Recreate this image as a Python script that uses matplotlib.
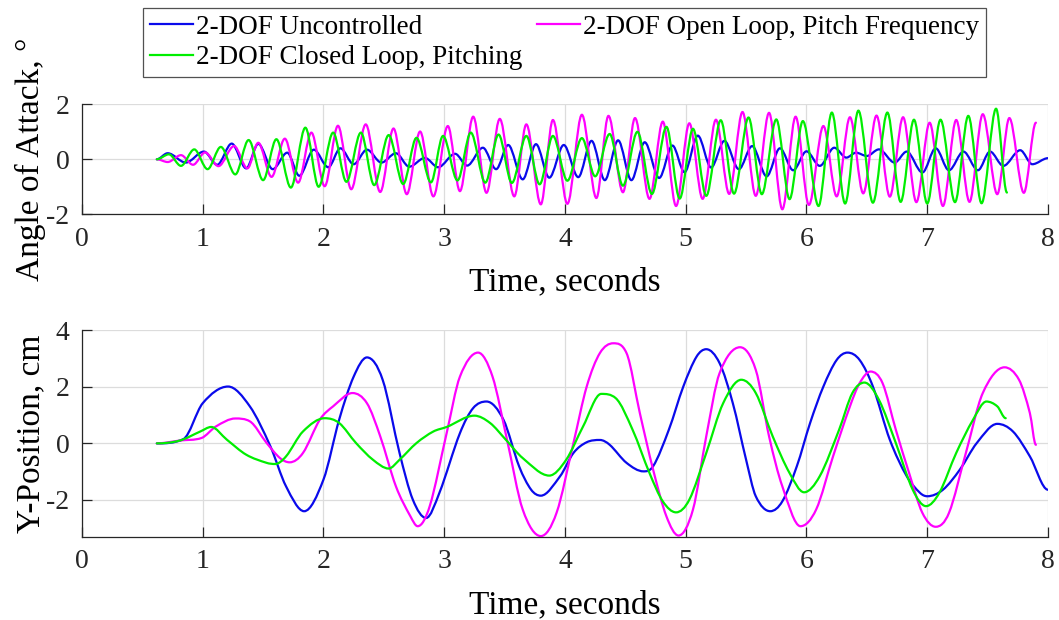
import matplotlib.pyplot as plt
from matplotlib.path import Path
from matplotlib.patches import PathPatch
from matplotlib.lines import Line2D

plt.rcParams['font.family'] = ['Liberation Serif', 'DejaVu Serif']
plt.rcParams['axes.unicode_minus'] = False

# Angle of attack, degrees -- peaks / troughs
aoa_unc_t = [0.62, 0.71, 0.86, 1.01, 1.12, 1.24, 1.36, 1.46, 1.58, 1.70, 1.80, 1.92, 2.04, 2.14, 2.25,
             2.36, 2.48, 2.60, 2.71, 2.84, 2.95, 3.09, 3.19, 3.32, 3.43, 3.53, 3.65, 3.76, 3.87, 3.99,
             4.11, 4.22, 4.33, 4.44, 4.55, 4.66, 4.78, 4.89, 4.99, 5.10, 5.21, 5.32, 5.44, 5.55, 5.67,
             5.78, 5.89, 6.00, 6.11, 6.23, 6.33, 6.41, 6.50, 6.60, 6.73, 6.83, 6.96, 7.07, 7.18, 7.30,
             7.42, 7.52, 7.63, 7.77, 7.87, 8.00]
aoa_unc = [0.0, 0.22, -0.12, 0.28, -0.20, 0.57, -0.33, 0.56, -0.36, 0.24, -0.60, 0.35, -0.29, 0.40, -0.18,
           0.35, -0.12, 0.22, -0.27, 0.05, -0.29, 0.20, -0.23, 0.42, -0.36, 0.52, -0.73, 0.55, -0.67, 0.52,
           -0.65, 0.67, -0.76, 0.69, -0.76, 0.62, -0.68, 0.50, -0.47, 0.86, -0.30, 0.67, -0.36, 0.48, -0.62,
           0.40, -0.40, 0.29, -0.24, 0.42, 0.06, 0.24, 0.12, 0.36, -0.12, 0.28, -0.48, 0.40, -0.40, 0.28,
           -0.40, 0.28, -0.24, 0.33, -0.18, 0.04]

aoa_open_t = [0.62, 0.71, 0.82, 0.92, 1.02, 1.13, 1.26, 1.37, 1.46, 1.57, 1.68, 1.79, 1.90, 2.01, 2.12,
              2.23, 2.35, 2.47, 2.58, 2.69, 2.80, 2.91, 3.03, 3.13, 3.24, 3.35, 3.46, 3.58, 3.68, 3.80,
              3.90, 4.02, 4.14, 4.26, 4.36, 4.48, 4.58, 4.70, 4.81, 4.92, 5.03, 5.14, 5.25, 5.36, 5.47,
              5.58, 5.69, 5.80, 5.91, 6.02, 6.14, 6.25, 6.36, 6.47, 6.58, 6.69, 6.80, 6.91, 7.02, 7.13,
              7.24, 7.35, 7.46, 7.58, 7.68, 7.80, 7.90]
aoa_open = [0.0, -0.10, 0.15, -0.20, 0.25, -0.25, 0.48, -0.33, 0.60, -0.64, 0.75, -0.85, 0.97, -0.98, 1.22,
            -1.09, 1.27, -1.19, 1.12, -1.27, 1.01, -1.35, 1.21, -1.16, 1.55, -1.22, 1.47, -1.35, 1.27, -1.64,
            1.43, -1.62, 1.62, -1.41, 1.58, -1.20, 1.50, -1.44, 1.37, -1.70, 1.31, -1.44, 1.44, -1.26, 1.72,
            -1.33, 1.69, -1.82, 1.55, -1.66, 1.21, -1.35, 1.53, -1.24, 1.59, -1.36, 1.53, -1.56, 1.33, -1.70,
            1.43, -1.55, 1.64, -1.27, 1.50, -1.22, 1.33]

aoa_closed_t = [0.62, 0.72, 0.82, 0.93, 1.04, 1.15, 1.27, 1.38, 1.50, 1.61, 1.73, 1.85, 1.96, 2.08, 2.19,
                2.31, 2.42, 2.54, 2.66, 2.77, 2.89, 2.99, 3.11, 3.22, 3.34, 3.45, 3.56, 3.68, 3.79, 3.90,
                4.02, 4.14, 4.25, 4.37, 4.48, 4.60, 4.72, 4.84, 4.95, 5.06, 5.17, 5.29, 5.40, 5.52, 5.63,
                5.75, 5.86, 5.97, 6.10, 6.21, 6.32, 6.43, 6.55, 6.67, 6.78, 6.89, 7.00, 7.11, 7.23, 7.34,
                7.45, 7.57, 7.66]
aoa_closed = [0.0, 0.18, -0.24, 0.36, -0.36, 0.45, -0.55, 0.70, -0.76, 0.73, -1.03, 1.15, -1.00, 0.97, -0.82,
              0.97, -0.94, 0.88, -0.90, 0.78, -0.84, 0.85, -0.77, 0.97, -0.85, 0.90, -0.86, 0.85, -0.91, 0.85,
              -0.78, 0.77, -0.62, 0.92, -0.96, 1.00, -1.26, 1.18, -1.43, 1.11, -1.33, 1.42, -1.25, 1.52, -1.27,
              1.45, -1.45, 1.39, -1.70, 1.70, -1.61, 1.77, -1.58, 1.70, -1.55, 1.44, -1.61, 1.44, -1.56, 1.58,
              -1.60, 1.84, -1.21]

# Y-position, cm
ypos_unc_t = [0.62, 0.84, 1.00, 1.21, 1.39, 1.56, 1.69, 1.84, 2.00, 2.13, 2.25, 2.36, 2.49, 2.63, 2.74,
              2.85, 2.96, 3.13, 3.24, 3.35, 3.49, 3.62, 3.72, 3.80, 3.96, 4.07, 4.18, 4.29, 4.37, 4.51,
              4.65, 4.73, 4.86, 4.98, 5.09, 5.17, 5.28, 5.39, 5.50, 5.58, 5.70, 5.80, 5.92, 6.03, 6.14,
              6.25, 6.34, 6.44, 6.55, 6.69, 6.83, 6.94, 7.00, 7.13, 7.27, 7.41, 7.58, 7.71, 7.85, 8.00]
ypos_unc = [0.0, 0.15, 1.42, 2.01, 1.31, -0.10, -1.52, -2.40, -1.28, 0.84, 2.36, 3.04, 2.25, -0.34, -1.99,
            -2.64, -1.75, 0.36, 1.25, 1.48, 0.84, -0.81, -1.64, -1.85, -1.16, -0.34, 0.04, 0.12, -0.05, -0.69,
            -0.99, -0.81, 0.48, 2.01, 3.07, 3.33, 2.84, 1.42, -0.58, -1.87, -2.40, -2.05, -0.81, 0.72, 2.01,
            2.95, 3.21, 2.95, 2.01, 0.13, -1.16, -1.75, -1.87, -1.64, -0.93, 0.01, 0.69, 0.42, -0.46, -1.64]

ypos_open_t = [0.62, 0.81, 0.99, 1.11, 1.27, 1.39, 1.53, 1.64, 1.72, 1.83, 1.97, 2.08, 2.24, 2.36, 2.47,
               2.60, 2.72, 2.78, 2.88, 3.02, 3.13, 3.28, 3.40, 3.52, 3.65, 3.80, 3.93, 4.07, 4.18, 4.29,
               4.40, 4.51, 4.62, 4.73, 4.84, 4.94, 5.06, 5.17, 5.28, 5.45, 5.58, 5.69, 5.80, 5.95, 6.08,
               6.22, 6.36, 6.44, 6.53, 6.63, 6.74, 6.85, 6.96, 7.07, 7.18, 7.32, 7.46, 7.64, 7.76, 7.85, 7.90]
ypos_open = [0.0, 0.10, 0.19, 0.60, 0.88, 0.78, 0.01, -0.52, -0.67, -0.34, 0.84, 1.31, 1.78, 1.42, 0.25,
             -1.52, -2.58, -2.93, -2.22, 0.36, 2.36, 3.21, 2.36, 0.13, -2.34, -3.28, -2.46, 0.01, 2.01, 3.20,
             3.54, 3.19, 1.07, -0.93, -2.58, -3.26, -2.34, 0.25, 2.48, 3.40, 2.60, 0.25, -1.52, -2.93, -2.34,
             -0.46, 1.31, 2.13, 2.54, 2.13, 0.48, -1.05, -2.46, -2.95, -2.46, -0.34, 1.78, 2.69, 2.25, 1.07, -0.05]

ypos_closed_t = [0.62, 0.81, 0.98, 1.07, 1.20, 1.36, 1.53, 1.60, 1.69, 1.83, 2.01, 2.13, 2.27, 2.41, 2.54,
                 2.63, 2.77, 2.91, 3.02, 3.25, 3.38, 3.51, 3.65, 3.87, 4.01, 4.15, 4.30, 4.42, 4.56, 4.70,
                 4.81, 4.92, 5.03, 5.17, 5.31, 5.46, 5.58, 5.72, 5.86, 5.98, 6.11, 6.27, 6.38, 6.48, 6.60,
                 6.74, 6.88, 6.99, 7.10, 7.24, 7.38, 7.49, 7.58, 7.65]
ypos_closed = [0.0, 0.10, 0.42, 0.58, 0.13, -0.40, -0.69, -0.73, -0.46, 0.42, 0.89, 0.72, 0.01, -0.58, -0.89,
               -0.58, 0.01, 0.42, 0.58, 0.98, 0.72, 0.13, -0.52, -1.14, -0.58, 0.60, 1.75, 1.60, 0.48, -1.05,
               -2.05, -2.44, -1.99, -0.34, 1.42, 2.25, 1.78, 0.25, -1.05, -1.73, -1.16, 0.48, 1.78, 2.15, 1.54,
               0.01, -1.64, -2.22, -1.75, -0.34, 0.84, 1.48, 1.31, 0.89]

labels = ['2-DOF Uncontrolled', '2-DOF Closed Loop, Pitching', '2-DOF Open Loop, Pitch Frequency']
colors = ['#0a0aeb', '#00ee00', '#ff00ff']


def smooth_line(ax, t, v, color, z):
    # cubic bezier through the read points, flat at peaks/troughs, no overshoot elsewhere
    n = len(t)
    sec = [(v[i + 1] - v[i]) / (t[i + 1] - t[i]) for i in range(n - 1)]
    slope = [0.0] * n
    for i in range(1, n - 1):
        if sec[i - 1] * sec[i] > 0:
            cr = (v[i + 1] - v[i - 1]) / (t[i + 1] - t[i - 1])
            lim = 3 * min(abs(sec[i - 1]), abs(sec[i]))
            slope[i] = max(-lim, min(lim, cr))
    verts = [(t[0], v[0])]
    codes = [Path.MOVETO]
    for i in range(n - 1):
        h = (t[i + 1] - t[i]) / 3
        verts += [(t[i] + h, v[i] + slope[i] * h), (t[i + 1] - h, v[i + 1] - slope[i + 1] * h),
                  (t[i + 1], v[i + 1])]
        codes += [Path.CURVE4] * 3
    ax.add_patch(PathPatch(Path(verts, codes), fill=False, edgecolor=color, lw=1.6,
                           zorder=z, capstyle='round', joinstyle='round'))


def style(ax, yticks, ylim, ylabel):
    ax.set_xlim(0, 8)
    ax.set_ylim(*ylim)
    ax.set_xticks(range(9))
    ax.set_yticks(yticks)
    ax.grid(True, color='#dcdcdc', linewidth=0.9)
    ax.set_axisbelow(True)
    for s in ['top', 'right']:
        ax.spines[s].set_visible(False)
    for s in ['left', 'bottom']:
        ax.spines[s].set_color('#262626')
        ax.spines[s].set_linewidth(0.9)
    ax.tick_params(direction='in', length=7, width=0.9, labelsize=20, colors='#262626', pad=9)
    ax.set_xlabel('Time, seconds', fontsize=24, labelpad=11)
    ax.set_ylabel(ylabel, fontsize=24, labelpad=0)


fig = plt.figure(figsize=(10.59, 6.2), dpi=100)
ax1 = fig.add_axes([0.0774, 0.6544, 0.9122, 0.1774])
ax2 = fig.add_axes([0.0774, 0.1344, 0.9122, 0.3329])

smooth_line(ax1, aoa_unc_t, aoa_unc, colors[0], 2.1)
smooth_line(ax1, aoa_open_t, aoa_open, colors[2], 2.2)
smooth_line(ax1, aoa_closed_t, aoa_closed, colors[1], 2.3)

smooth_line(ax2, ypos_unc_t, ypos_unc, colors[0], 2.1)
smooth_line(ax2, ypos_open_t, ypos_open, colors[2], 2.2)
smooth_line(ax2, ypos_closed_t, ypos_closed, colors[1], 2.3)

style(ax1, [-2, 0, 2], (-2, 2), 'Angle of Attack, °')
style(ax2, [-2, 0, 2, 4], (-3.3, 4), 'Y-Position, cm')

handles = [Line2D([], [], color=c, lw=1.6) for c in colors]
leg = fig.legend(handles, labels, ncol=2, loc='upper left', bbox_to_anchor=(143 / 1059, 1 - 8 / 620),
                 fontsize=19.5, frameon=True, fancybox=False, edgecolor='#262626',
                 handlelength=1.6, handletextpad=0.1, columnspacing=0.55,
                 labelspacing=0.2, borderpad=0.25, borderaxespad=0)
leg.get_frame().set_linewidth(0.9)

fig.savefig('out.png', dpi=100)
